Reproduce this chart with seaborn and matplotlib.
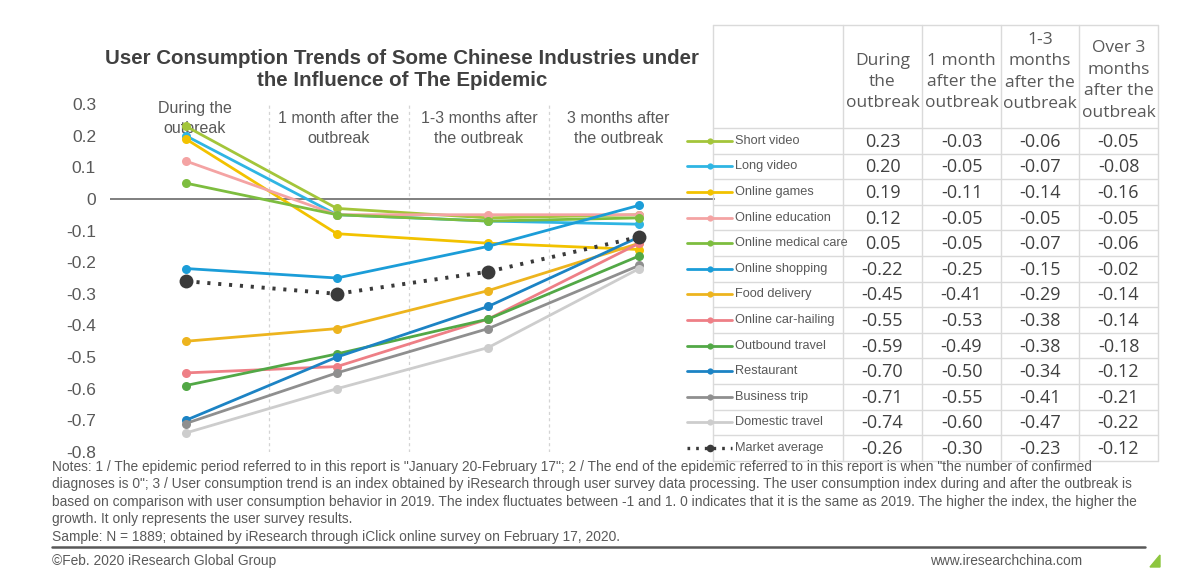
import numpy as np
import pandas as pd
import matplotlib
matplotlib.use("Agg")
import matplotlib.pyplot as plt
import seaborn as sns
from matplotlib.lines import Line2D
from matplotlib.transforms import blended_transform_factory

# ---------------- data ----------------
periods = ["During the outbreak", "1 month after the outbreak",
           "1-3 months after the outbreak", "3 months after the outbreak"]
period_labels = ["During the\noutbreak", "1 month after the\noutbreak",
                 "1-3 months after\nthe outbreak", "3 months after\nthe outbreak"]
table_headers = ["During\nthe\noutbreak", "1 month\nafter the\noutbreak",
                 "1-3\nmonths\nafter the\noutbreak", "Over 3\nmonths\nafter the\noutbreak"]

industries = ["Short video", "Long video", "Online games", "Online education",
              "Online medical care", "Online shopping", "Food delivery",
              "Online car-hailing", "Outbound travel", "Restaurant",
              "Business trip", "Domestic travel", "Market average"]

short_video = [0.23, -0.03, -0.06, -0.05]
long_video = [0.20, -0.05, -0.07, -0.08]
online_games = [0.19, -0.11, -0.14, -0.16]
online_education = [0.12, -0.05, -0.05, -0.05]
online_medical_care = [0.05, -0.05, -0.07, -0.06]
online_shopping = [-0.22, -0.25, -0.15, -0.02]
food_delivery = [-0.45, -0.41, -0.29, -0.14]
online_car_hailing = [-0.55, -0.53, -0.38, -0.14]
outbound_travel = [-0.59, -0.49, -0.38, -0.18]
restaurant = [-0.70, -0.50, -0.34, -0.12]
business_trip = [-0.71, -0.55, -0.41, -0.21]
domestic_travel = [-0.74, -0.60, -0.47, -0.22]
market_average = [-0.26, -0.30, -0.23, -0.12]

series_values = [short_video, long_video, online_games, online_education,
                 online_medical_care, online_shopping, food_delivery,
                 online_car_hailing, outbound_travel, restaurant,
                 business_trip, domestic_travel, market_average]

colors = ["#A3C53A", "#2FB5E3", "#F2C200", "#F4A3A3", "#7DBD3F", "#1B9DD8",
          "#EDB41E", "#EE7F86", "#52A846", "#1C83C4", "#8F8F8F", "#CDCDCD",
          "#3A3A3A"]

y_ticks = [0.3, 0.2, 0.1, 0.0, -0.1, -0.2, -0.3, -0.4, -0.5, -0.6, -0.7, -0.8]
y_tick_labels = ["0.3", "0.2", "0.1", "0", "-0.1", "-0.2", "-0.3", "-0.4",
                 "-0.5", "-0.6", "-0.7", "-0.8"]

title = "User Consumption Trends of Some Chinese Industries under\nthe Influence of The Epidemic"
notes = [
    'Notes: 1 / The epidemic period referred to in this report is "January 20-February 17"; 2 / The end of the epidemic referred to in this report is when "the number of confirmed',
    'diagnoses is 0"; 3 / User consumption trend is an index obtained by iResearch through user survey data processing. The user consumption index during and after the outbreak is',
    'based on comparison with user consumption behavior in 2019. The index fluctuates between -1 and 1. 0 indicates that it is the same as 2019. The higher the index, the higher the',
    'growth. It only represents the user survey results.',
    'Sample: N = 1889; obtained by iResearch through iClick online survey on February 17, 2020.',
]
footer_left = "\u00a9Feb. 2020 iResearch Global Group"
footer_right = "www.iresearchchina.com"

# ---------------- long-form table ----------------
rows = []
for name, vals in zip(industries, series_values):
    for i, (p, v) in enumerate(zip(periods, vals)):
        rows.append({"industry": name, "period": p, "pos": i, "value": v})
df = pd.DataFrame(rows)

# ---------------- figure ----------------
sns.set_theme(style="white")
plt.rcParams["font.family"] = ["Liberation Sans", "DejaVu Sans"]
plt.rcParams["axes.unicode_minus"] = False

W, H = 1190, 570
fig = plt.figure(figsize=(W / 100, H / 100), dpi=100)
fig.patch.set_facecolor("white")

def fx(px):
    return px / W

def fy(py):
    return 1 - py / H

ax_l, ax_r, ax_t, ax_b = 110, 715, 104, 452
ax = fig.add_axes([fx(ax_l), fy(ax_b), fx(ax_r - ax_l), (ax_b - ax_t) / H])
ax.set_facecolor("none")

TXT = "#595959"

for name, col in zip(industries, colors):
    sub = df[df["industry"] == name]
    if name == "Market average":
        sns.lineplot(data=sub, x="pos", y="value", ax=ax, color=col,
                     linewidth=2.8, linestyle=(0, (0.8, 2.0)), marker="o",
                     markersize=10, markeredgewidth=0, zorder=5,
                     estimator=None, sort=False)
    else:
        sns.lineplot(data=sub, x="pos", y="value", ax=ax, color=col,
                     linewidth=2.0, marker="o", markersize=6.5,
                     markeredgewidth=0, zorder=3, estimator=None, sort=False)

ax.axhline(0, color="#7F7F7F", linewidth=1.4, zorder=2)

ax.set_xlim(-0.5, 3.5)
ax.set_ylim(-0.8, 0.3)
ax.set_yticks(y_ticks)
ax.set_yticklabels(y_tick_labels, fontsize=12.5, color=TXT)
ax.set_xticks([])
ax.tick_params(axis="y", length=0, pad=10)
ax.set_xlabel("")
ax.set_ylabel("")
for s in ax.spines.values():
    s.set_visible(False)

# period band separators and labels
for xs in [0.55, 1.48, 2.40]:
    ax.axvline(xs, color="#D4D4D4", linewidth=0.9, linestyle=(0, (2.5, 2.5)), zorder=1)
trans = blended_transform_factory(ax.transData, ax.transAxes)
label_x = [0.06, 1.01, 1.94, 2.86]
label_y = [1.010, 0.979, 0.979, 0.979]
for lx, ly, lab in zip(label_x, label_y, period_labels):
    ax.text(lx, ly, lab, transform=trans, ha="center", va="top", fontsize=11.5,
            color=TXT, linespacing=1.42, zorder=1)

# ---------------- overlay (table, notes, title) ----------------
ov = fig.add_axes([0, 0, 1, 1])
ov.set_xlim(0, W)
ov.set_ylim(H, 0)
ov.axis("off")
ov.patch.set_visible(False)

ov.text(402, 70, title, ha="center", va="center", fontsize=14.8,
        fontweight="bold", color="#404040", linespacing=1.2)

# table grid
GRID = "#DADADA"
tab_l, tab_r, tab_t, head_b = 713, 1158, 25, 128
row_h = 25.6
n_rows = len(industries)
tab_b = head_b + n_rows * row_h
col_edges = [843, 922, 1001, 1079, 1158]
ov.plot([tab_l, tab_r], [tab_t, tab_t], color=GRID, lw=1)
for k in range(n_rows + 1):
    yy = head_b + k * row_h
    ov.plot([tab_l, tab_r], [yy, yy], color=GRID, lw=1)
for xe in [tab_l] + col_edges:
    ov.plot([xe, xe], [tab_t, tab_b], color=GRID, lw=1)

# header
col_centers = [(col_edges[i] + col_edges[i + 1]) / 2 for i in range(4)]
head_y = [82, 82, 72, 80.5]
for cx, hy, h in zip(col_centers, head_y, table_headers):
    ov.text(cx, hy, h, ha="center", va="center", fontsize=12.5, color=TXT,
            family=["Open Sans", "DejaVu Sans"], linespacing=1.45)

# rows: legend keys, labels, values
for k, (name, col, vals) in enumerate(zip(industries, colors, series_values)):
    yc = head_b + row_h * (k + 0.5)
    if name == "Market average":
        ov.add_line(Line2D([687, 732], [yc, yc], color=col, lw=2.4,
                           linestyle=(0, (0.8, 1.8))))
        ov.plot([710], [yc], marker="o", color=col, markersize=5.5, markeredgewidth=0)
    else:
        ov.add_line(Line2D([687, 732], [yc, yc], color=col, lw=2.0))
        ov.plot([710], [yc], marker="o", color=col, markersize=4.5, markeredgewidth=0)
    ov.text(735, yc, name, ha="left", va="center", fontsize=9.2, color=TXT)
    for cx, v in zip(col_centers, vals):
        ov.text(cx, yc + 1, f"{v:.2f}", ha="center", va="center", fontsize=13,
                color="#404040", family=["Open Sans", "DejaVu Sans"])

# notes
for i, line in enumerate(notes):
    ov.text(52, 467 + i * 17.4, line, ha="left", va="center", fontsize=9.9,
            color=TXT)
ov.plot([52, 1145], [547, 547], color="#595959", lw=1.8)
ov.text(52, 561, footer_left, ha="left", va="center", fontsize=9.9, color=TXT)
ov.text(930, 561, footer_right, ha="left", va="center", fontsize=9.9, color=TXT)
ov.fill([1150, 1160, 1160], [567, 555, 567], color="#8DC63F")

fig.savefig("out.png", dpi=100, facecolor="white")
